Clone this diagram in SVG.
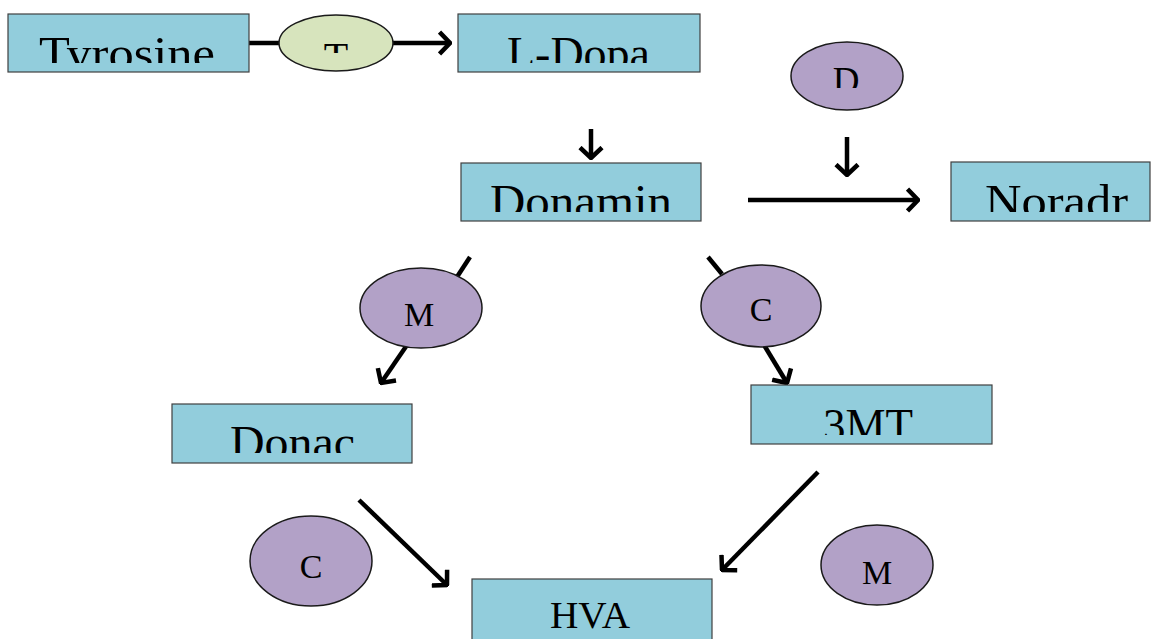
<svg xmlns="http://www.w3.org/2000/svg" width="1152" height="639" viewBox="0 0 1152 639">
<style>
.box{fill:#92cddc;stroke:#404040;stroke-width:1.2}
.enz{fill:#b2a1c7;stroke:#1a1a1a;stroke-width:1.5}
.enzT{fill:#d7e4bd;stroke:#1a1a1a;stroke-width:1.5}
.lbl{font-family:"Liberation Serif",serif;font-size:46px;fill:#000}
.el{font-family:"Liberation Serif",serif;font-size:34px;fill:#000;text-anchor:middle}
.ln{stroke:#000;stroke-width:4.5;fill:none}
</style>
<defs>
<marker id="ah" viewBox="0 0 14 26" refX="12" refY="13" markerWidth="14" markerHeight="26" markerUnits="userSpaceOnUse" orient="auto">
<path d="M1.5,2 L12,13 L1.5,24" fill="none" stroke="#000" stroke-width="4.5"/>
</marker>
<clipPath id="cTy"><rect x="0" y="0" width="260" height="63"/></clipPath>
<clipPath id="cLD"><rect x="450" y="0" width="260" height="63"/></clipPath>
<clipPath id="cDo"><rect x="450" y="150" width="260" height="62"/></clipPath>
<clipPath id="cNo"><rect x="940" y="150" width="212" height="62"/></clipPath>
<clipPath id="cDc"><rect x="160" y="390" width="260" height="63"/></clipPath>
<clipPath id="c3M"><rect x="740" y="380" width="260" height="55"/></clipPath>
<clipPath id="cD"><rect x="780" y="30" width="130" height="58"/></clipPath>
<clipPath id="cT"><rect x="270" y="0" width="130" height="53"/></clipPath>
</defs>
<g id="connectors">
<line class="ln" x1="249" y1="43" x2="281" y2="43"/>
<line class="ln" x1="392" y1="43" x2="450" y2="43" marker-end="url(#ah)"/>
<line class="ln" x1="591" y1="129" x2="591" y2="158" marker-end="url(#ah)"/>
<line class="ln" x1="847" y1="137" x2="847" y2="175" marker-end="url(#ah)"/>
<line class="ln" x1="748" y1="200" x2="918" y2="200" marker-end="url(#ah)"/>
<line class="ln" x1="470" y1="257" x2="455" y2="280"/>
<line class="ln" x1="407" y1="345" x2="381" y2="383" marker-end="url(#ah)"/>
<line class="ln" x1="708" y1="257" x2="722" y2="274"/>
<line class="ln" x1="764" y1="345" x2="787" y2="383" marker-end="url(#ah)"/>
<line class="ln" x1="359" y1="500" x2="447" y2="585" marker-end="url(#ah)"/>
<line class="ln" x1="818" y1="472" x2="722" y2="570" marker-end="url(#ah)"/>
</g>
<g id="tyrosine">
<rect class="box" x="8" y="14" width="241" height="58"/>
<text class="lbl" x="39" y="69" textLength="176" lengthAdjust="spacingAndGlyphs" clip-path="url(#cTy)">Tyrosine</text>
</g>
<g id="enzyme-T">
<ellipse class="enzT" cx="336" cy="43" rx="57" ry="28"/>
<text class="el" x="336" y="70" style="font-size:40px" clip-path="url(#cT)">T</text>
</g>
<g id="ldopa">
<rect class="box" x="458" y="14" width="242" height="58"/>
<text class="lbl" x="507" y="69" textLength="143" lengthAdjust="spacingAndGlyphs" clip-path="url(#cLD)">L-Dopa</text>
</g>
<g id="enzyme-D">
<ellipse class="enz" cx="847" cy="76" rx="56" ry="34"/>
<text class="el" x="846" y="93" style="font-size:37px" clip-path="url(#cD)">D</text>
</g>
<g id="dopamin">
<rect class="box" x="461" y="163" width="240" height="58"/>
<text class="lbl" x="490" y="217" textLength="182" lengthAdjust="spacingAndGlyphs" clip-path="url(#cDo)">Donamin</text>
</g>
<g id="noradr">
<rect class="box" x="951" y="162" width="199" height="59"/>
<text class="lbl" x="985" y="217" textLength="143" lengthAdjust="spacingAndGlyphs" clip-path="url(#cNo)">Noradr</text>
</g>
<g id="enzyme-M1">
<ellipse class="enz" cx="421" cy="308" rx="61" ry="40"/>
<text class="el" x="419" y="326">M</text>
</g>
<g id="enzyme-C1">
<ellipse class="enz" cx="761" cy="306" rx="60" ry="41"/>
<text class="el" x="761" y="321">C</text>
</g>
<g id="dopac">
<rect class="box" x="172" y="404" width="240" height="59"/>
<text class="lbl" x="230" y="458" textLength="125" lengthAdjust="spacingAndGlyphs" clip-path="url(#cDc)">Donac</text>
</g>
<g id="mt3">
<rect class="box" x="751" y="385" width="241" height="59"/>
<text class="lbl" x="823" y="441" textLength="90" lengthAdjust="spacingAndGlyphs" clip-path="url(#c3M)">3MT</text>
</g>
<g id="enzyme-C2">
<ellipse class="enz" cx="311" cy="561" rx="61" ry="45"/>
<text class="el" x="311" y="578">C</text>
</g>
<g id="hva">
<rect class="box" x="472" y="579" width="240" height="62"/>
<text class="lbl" x="550" y="628" style="font-size:37px" textLength="80" lengthAdjust="spacingAndGlyphs">HVA</text>
</g>
<g id="enzyme-M2">
<ellipse class="enz" cx="877" cy="565" rx="56" ry="40"/>
<text class="el" x="877" y="584">M</text>
</g>
</svg>
